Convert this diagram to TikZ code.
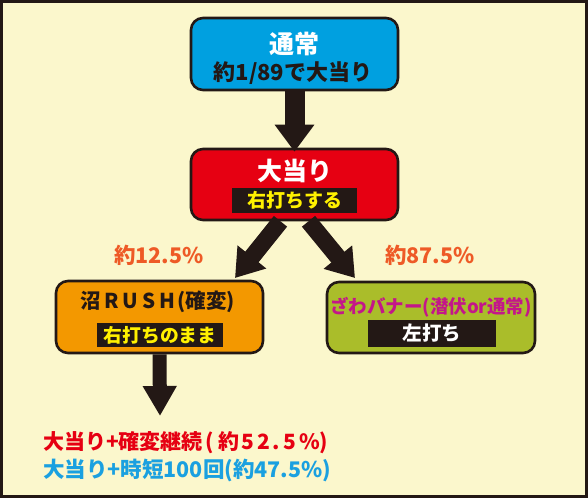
\documentclass[tikz,border=0pt]{standalone}
\usepackage{fontspec}
\setmainfont{Noto Sans CJK JP}
\usetikzlibrary{arrows.meta}
\definecolor{bg}{HTML}{FBF7CC}
\definecolor{ink}{HTML}{231815}
\definecolor{cblue}{HTML}{00A0E0}
\definecolor{cred}{HTML}{E60012}
\definecolor{corange}{HTML}{F39800}
\definecolor{cgreen}{HTML}{AABD2A}
\definecolor{cmag}{HTML}{C4168A}
\definecolor{cpct}{HTML}{EE5A26}
\definecolor{cyel}{HTML}{FFF100}
\definecolor{cline}{HTML}{1AA0E0}
\tikzset{
  box/.style={draw=ink, line width=2.6pt, rounded corners=12pt, minimum width=207pt, minimum height=72pt, inner sep=0pt},
  tag/.style={fill=ink, inner sep=0pt, minimum height=25pt},
  txt/.style={inner sep=0pt, font=\bfseries},
  arr/.style n args={3}{ink, line width=#1, -{Triangle[width=#2,length=#3]}}
}
\begin{document}
\begin{tikzpicture}[x=1pt,y=-1pt]
\useasboundingbox (0,0) rectangle (588,498);
\fill[bg] (0,0) rectangle (588,498);
\draw[ink, line width=2.6pt] (1.3,1.3) rectangle (586.7,496.7);

% boxes
\node[box, fill=cblue] (tsujo) at (294.5,54) {};
\node[box, fill=cred, minimum height=71pt] (oa) at (294.5,184.5) {};
\node[box, fill=corange] (numa) at (159.5,317) {};
\node[box, fill=cgreen, minimum width=208pt, minimum height=71pt] (zawa) at (431,317.5) {};

% box texts
\node[txt, text=white, font=\bfseries\fontsize{25}{25}\selectfont] (t1) at (294.5,44) {通常};
\node[txt, text=ink, font=\bfseries\fontsize{22}{22}\selectfont] (t2) at (293,73) {約1/89で大当り};

\node[txt, text=white, font=\bfseries\fontsize{25}{25}\selectfont] (o1) at (294.5,171) {大当り};
\node[tag, minimum width=125pt] (o2) at (294.5,200) {};
\node[txt, text=cyel, font=\bfseries\fontsize{19}{19}\selectfont] at (o2) {右打ちする};

\node[txt, text=ink, font=\bfseries\fontsize{20.5}{20.5}\selectfont] (n1) at (158,302) {沼\hspace{3pt}R\hspace{4pt}U\hspace{4pt}S\hspace{4pt}H\hspace{2pt}(確変)};
\node[tag, minimum width=126pt, minimum height=24pt] (n2) at (160,335) {};
\node[txt, text=cyel, font=\bfseries\fontsize{18.8}{18.8}\selectfont] at (n2) {右打ちのまま};

\node[txt, text=cmag, font=\bfseries\fontsize{18.5}{18.5}\selectfont] (z1) at (431,307) {ざわバナー(潜伏or通常)};
\node[tag, minimum width=128pt, minimum height=27pt] (z2) at (432,333.5) {};
\node[txt, text=white, font=\bfseries\fontsize{19.5}{19.5}\selectfont] at (z2) {左打ち};

% percentages
\node[txt, text=cpct, font=\bfseries\fontsize{21.5}{21.5}\selectfont] (p1) at (159,255) {約12.5\%};
\node[txt, text=cpct, font=\bfseries\fontsize{21.5}{21.5}\selectfont] (p2) at (430,255) {約87.5\%};

% arrows
\draw[arr={20pt}{38pt}{27pt}] (tsujo.south) -- ([yshift=-4pt]oa.north);
\coordinate (lt) at (235,278);
\coordinate (rt) at (355,278);
\draw[arr={17pt}{35pt}{27pt}] ([xshift=-14pt]oa.south) -- (lt);
\draw[arr={17pt}{35pt}{27pt}] ([xshift=14pt]oa.south) -- (rt);
\coordinate (bt) at (160,416);
\draw[arr={14pt}{32pt}{30pt}] (numa.south) -- (bt);

% bottom lines
\node[txt, anchor=west, text=cred, font=\bfseries\fontsize{21}{21}\selectfont] (b1) at (43,443) {大当り+確変継続\hspace{3pt}(\hspace{4pt}約\hspace{2pt}5\hspace{3pt}2\hspace{3pt}.\hspace{3pt}5\hspace{3pt}\%)};
\node[txt, anchor=west, text=cline, font=\bfseries\fontsize{21.5}{21.5}\selectfont] (b2) at (43,470) {大当り+時短100回(約47.5\%)};
\end{tikzpicture}
\end{document}
